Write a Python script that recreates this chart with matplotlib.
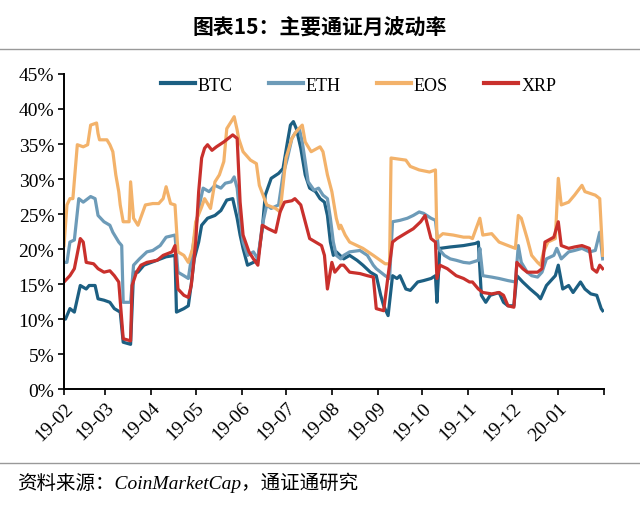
import matplotlib
matplotlib.use("Agg")
import matplotlib.pyplot as plt
import matplotlib.ticker as mticker
import pandas as pd

START = pd.Timestamp("2019-02-01")

# days since 2019-02-01, monthly volatility in %
btc_day = [0, 1, 4, 7, 11, 15, 17, 21, 23, 27, 31, 34, 38, 40, 45, 47, 50, 54, 59, 69, 75, 76, 81, 84,
           86, 88, 91, 93, 97, 102, 106, 110, 114, 117, 119, 121, 124, 128, 131, 134, 136, 140, 145, 148,
           151, 153, 155, 157, 160, 163, 166, 170, 173, 176, 178, 180, 182, 184, 189, 193, 198, 202, 207,
           211, 214, 216, 219, 222, 225, 227, 231, 234, 239, 243, 248, 251, 252, 254, 261, 270, 278, 280,
           282, 285, 288, 294, 297, 300, 304, 306, 310, 315, 320, 322, 326, 332, 334, 337, 341, 344, 349,
           352, 356, 360, 363, 364]
btc_val = [10.0, 10.0, 11.5, 11.0, 14.8, 14.3, 14.8, 14.8, 12.9, 12.7, 12.4, 11.5, 11.0, 6.7, 6.4, 16.7,
           16.7, 17.7, 18.1, 18.9, 19.1, 11.0, 11.5, 11.9, 15.0, 18.6, 21.0, 23.4, 24.4, 24.8, 25.5, 27.0,
           27.2, 24.4, 22.0, 20.1, 17.7, 18.1, 18.6, 22.9, 27.7, 30.1, 30.8, 31.5, 35.3, 37.7, 38.2, 37.2,
           34.4, 30.6, 28.7, 28.2, 27.2, 26.7, 24.8, 21.0, 19.1, 19.6, 18.6, 19.1, 18.4, 17.7, 16.7, 16.2,
           13.4, 11.9, 10.5, 16.2, 15.8, 16.2, 14.3, 14.1, 15.3, 15.5, 15.8, 16.2, 12.4, 20.1, 20.3, 20.5,
           20.8, 21.0, 13.4, 12.4, 13.4, 13.8, 12.4, 11.9, 11.9, 16.2, 15.3, 14.3, 13.4, 12.9, 14.8, 16.2,
           17.7, 14.3, 14.8, 13.8, 15.3, 14.3, 13.6, 13.4, 11.5, 11.2]

eth_day = [0, 2, 4, 7, 10, 13, 18, 21, 23, 27, 31, 33, 37, 39, 40, 45, 47, 51, 56, 60, 65, 69, 75, 77,
           81, 84, 87, 91, 94, 98, 102, 106, 109, 113, 115, 117, 119, 121, 124, 128, 131, 134, 137, 140,
           145, 148, 151, 154, 156, 159, 161, 163, 165, 169, 172, 175, 178, 180, 182, 184, 187, 189, 193,
           200, 205, 209, 211, 217, 220, 222, 227, 232, 236, 240, 243, 248, 251, 253, 257, 261, 265, 270,
           274, 280, 281, 283, 289, 294, 300, 305, 307, 309, 313, 316, 320, 323, 326, 331, 333, 336, 341,
           345, 350, 355, 359, 362, 364]
eth_val = [18.1, 18.1, 21.0, 21.3, 27.2, 26.7, 27.5, 27.2, 24.8, 23.9, 23.4, 22.4, 21.0, 20.5, 12.4, 12.4,
           17.7, 18.6, 19.6, 19.8, 20.5, 21.7, 22.0, 16.7, 16.2, 15.8, 20.1, 25.8, 28.7, 28.2, 29.1, 28.7,
           29.4, 29.6, 30.3, 28.7, 24.4, 21.0, 19.1, 19.6, 18.6, 23.4, 26.3, 25.8, 26.3, 30.6, 33.0, 35.8,
           36.5, 37.2, 35.3, 32.5, 29.6, 28.4, 28.7, 27.7, 27.2, 24.4, 21.0, 19.1, 18.6, 19.1, 19.6, 19.8,
           19.1, 17.7, 17.2, 16.2, 15.8, 23.9, 24.1, 24.4, 24.8, 25.3, 25.1, 24.4, 24.1, 20.1, 19.1, 18.6,
           18.4, 18.1, 18.0, 18.4, 20.1, 16.2, 16.0, 15.8, 15.5, 15.3, 20.5, 18.1, 16.7, 16.2, 16.0, 16.7,
           18.6, 19.1, 20.1, 18.6, 19.6, 19.8, 20.1, 19.6, 19.8, 22.4, 18.6]

eos_day = [0, 2, 4, 6, 9, 13, 16, 18, 22, 23, 24, 29, 31, 33, 35, 37, 38, 40, 44, 45, 47, 50, 55, 60,
           64, 67, 69, 72, 75, 77, 81, 84, 87, 89, 93, 95, 99, 102, 105, 108, 110, 113, 115, 117, 118, 121,
           126, 130, 132, 137, 143, 146, 148, 150, 154, 157, 161, 163, 167, 173, 175, 178, 181, 184, 186,
           187, 190, 193, 198, 202, 209, 217, 220, 221, 231, 234, 240, 247, 251, 252, 256, 263, 270, 274,
           276, 281, 283, 289, 294, 300, 305, 307, 309, 313, 316, 320, 322, 324, 327, 332, 334, 336, 341,
           345, 350, 352, 359, 362, 364]
eos_val = [20.5, 26.3, 27.2, 27.2, 34.9, 34.6, 34.9, 37.7, 38.0, 36.5, 35.6, 35.6, 34.9, 33.9, 30.6, 28.2,
           26.3, 23.9, 23.9, 29.6, 24.4, 23.4, 26.3, 26.5, 26.5, 27.2, 28.9, 26.5, 26.3, 19.6, 19.1, 18.1,
           20.1, 23.9, 26.0, 27.2, 25.8, 29.6, 30.6, 32.5, 37.2, 38.2, 38.9, 37.0, 35.8, 33.9, 32.7, 32.2,
           29.1, 26.3, 25.8, 25.3, 29.1, 33.0, 35.8, 36.8, 37.7, 35.3, 33.9, 34.6, 33.9, 30.6, 28.2, 24.4,
           22.9, 23.4, 22.0, 21.0, 20.5, 20.1, 19.1, 17.9, 17.9, 33.0, 32.7, 31.8, 31.3, 31.0, 31.3, 21.5,
           22.2, 22.0, 21.7, 21.7, 21.5, 24.4, 22.0, 22.2, 21.0, 20.5, 20.1, 24.8, 24.4, 21.5, 19.1, 18.1,
           17.7, 19.6, 21.0, 21.5, 30.1, 26.3, 26.7, 27.7, 29.1, 28.2, 27.7, 27.2, 19.1]

xrp_day = [0, 4, 7, 11, 13, 15, 20, 23, 27, 31, 34, 37, 40, 45, 46, 49, 52, 56, 63, 67, 73, 75, 77, 81,
           84, 86, 89, 91, 93, 95, 97, 100, 103, 108, 111, 114, 117, 119, 121, 125, 128, 131, 134, 138,
           143, 146, 149, 154, 156, 160, 163, 166, 170, 174, 176, 178, 181, 183, 187, 189, 193, 200, 205,
           209, 211, 216, 219, 222, 225, 232, 236, 241, 244, 248, 251, 252, 254, 259, 265, 270, 274, 276,
           280, 283, 289, 294, 297, 300, 304, 306, 310, 313, 320, 323, 325, 331, 334, 336, 341, 345, 350,
           355, 357, 360, 362, 364]
xrp_val = [15.3, 16.2, 17.2, 21.5, 21.0, 18.1, 17.9, 17.2, 16.7, 16.9, 16.2, 15.3, 7.2, 6.9, 14.8, 16.7,
           17.7, 18.1, 18.4, 19.1, 19.6, 20.5, 14.3, 13.4, 13.1, 14.8, 21.0, 28.2, 33.0, 34.4, 34.9, 34.1,
           34.6, 35.3, 35.8, 36.3, 35.8, 26.7, 22.0, 19.6, 18.6, 17.7, 23.4, 22.9, 22.4, 25.3, 26.7, 26.9,
           27.2, 26.3, 23.9, 21.5, 21.0, 20.5, 19.1, 14.3, 18.1, 16.7, 17.7, 17.7, 16.7, 16.5, 16.2, 16.0,
           11.5, 11.2, 16.2, 21.0, 21.5, 22.4, 22.9, 23.9, 24.8, 21.5, 21.0, 15.8, 17.7, 17.2, 16.2, 15.8,
           15.3, 15.3, 14.3, 13.8, 13.6, 13.8, 13.4, 11.9, 11.7, 18.1, 17.2, 16.7, 16.7, 17.2, 21.0, 21.7,
           23.9, 20.5, 20.1, 20.3, 20.5, 20.1, 17.2, 16.7, 17.7, 17.2]

series = [
    ("BTC", btc_day, btc_val, "#1c5f82"),
    ("ETH", eth_day, eth_val, "#6d9bb8"),
    ("EOS", eos_day, eos_val, "#f3b26a"),
    ("XRP", xrp_day, xrp_val, "#c9302c"),
]

serif = ["Liberation Serif", "Noto Sans CJK SC"]

fig = plt.figure(figsize=(6.4, 5.1), dpi=100)
ax = fig.add_axes([0.1, 0.235, 0.844, 0.618])

for name, d, v, c in series:
    x = START + pd.to_timedelta(d, unit="D")
    ax.plot(x, [u / 100 for u in v], color=c, lw=2.3, label=name, solid_joinstyle="round")

ax.set_ylim(0, 0.45)
ax.set_xlim(START, pd.Timestamp("2020-02-01"))
ax.yaxis.set_major_locator(mticker.MultipleLocator(0.05))
ax.yaxis.set_major_formatter(mticker.FuncFormatter(lambda y, _: f"{y * 100:.0f}%"))

months = pd.date_range("2019-02-01", "2020-02-01", freq="MS")
ax.set_xticks(months)
ax.set_xticklabels([m.strftime("%y-%m") for m in months[:-1]] + [""])

for s in ["top", "right"]:
    ax.spines[s].set_visible(False)
for s in ["left", "bottom"]:
    ax.spines[s].set_linewidth(1.4)
ax.tick_params(axis="both", direction="out", length=4, width=1.2, labelsize=14, pad=3)
for lbl in ax.get_yticklabels():
    lbl.set_family(serif)
for lbl in ax.get_xticklabels():
    lbl.set_family(serif)
    lbl.set_rotation(45)
    lbl.set_ha("right")
    lbl.set_rotation_mode("anchor")

leg = ax.legend(loc="center", bbox_to_anchor=(0.545, 0.965), ncol=4, frameon=False,
                prop={"family": serif, "size": 13}, handlelength=1.9, handletextpad=0.15,
                columnspacing=2.0)
for h in leg.get_lines():
    h.set_linewidth(3)

fig.text(0.5, 1 - 28 / 510, "图表15：主要通证月波动率", ha="center", va="center", fontsize=15,
         fontweight="bold", family=["Noto Sans CJK SC", "DejaVu Sans"])
fig.add_artist(plt.Line2D([0, 1], [1 - 50 / 510, 1 - 50 / 510], color="#999999", lw=1))
fig.add_artist(plt.Line2D([0, 1], [1 - 464 / 510, 1 - 464 / 510], color="#999999", lw=1))
fig.text(0.026, 1 - 483 / 510, "资料来源：CoinMarketCap，通证通研究", ha="left", va="center",
         fontsize=14, style="italic", family=serif)

fig.savefig("out.png", dpi=100)
